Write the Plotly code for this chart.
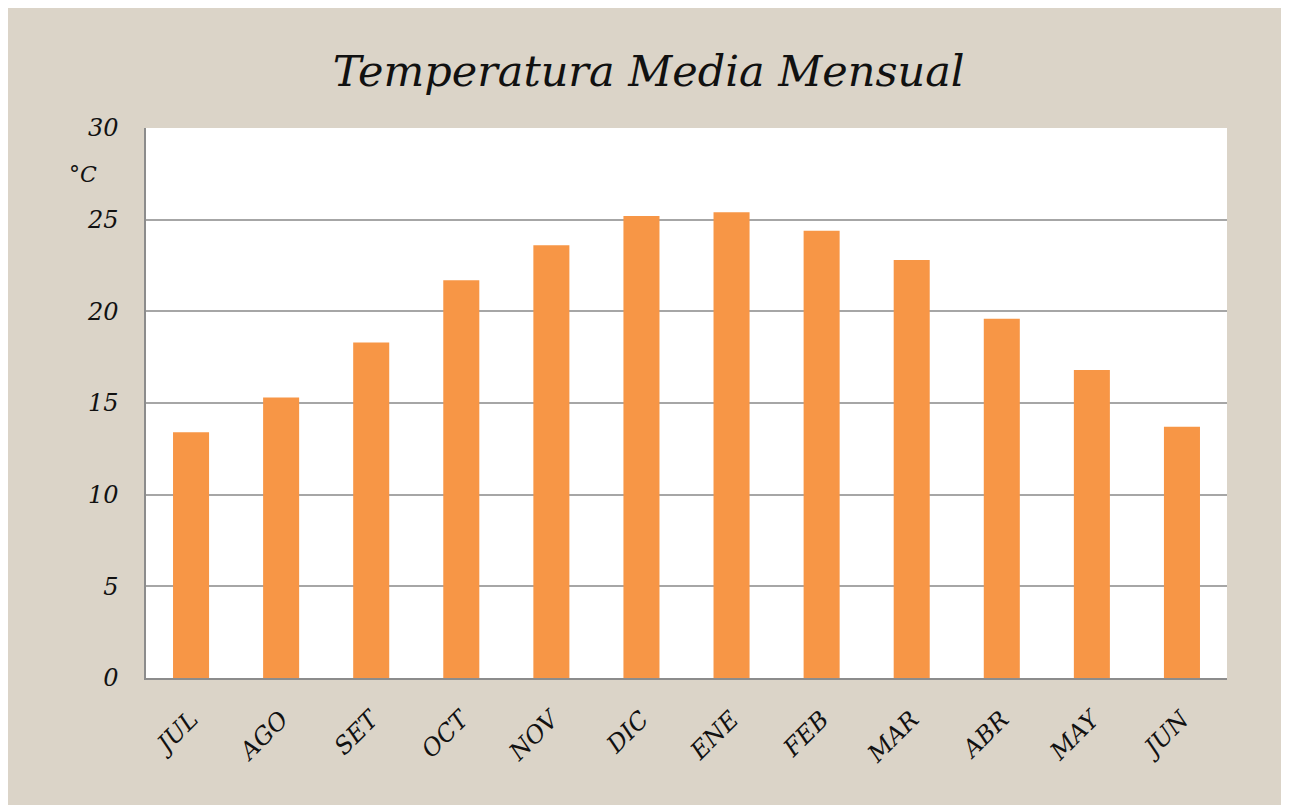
import plotly.graph_objects as go

months = ["JUL", "AGO", "SET", "OCT", "NOV", "DIC", "ENE", "FEB", "MAR", "ABR", "MAY", "JUN"]
temps = [13.4, 15.3, 18.3, 21.7, 23.6, 25.2, 25.4, 24.4, 22.8, 19.6, 16.8, 13.7]
y_ticks = [0, 5, 10, 15, 20, 25, 30]

title_text = "Temperatura Media Mensual"
unit_text = "°C"

serif = "DejaVu Serif"
bg = "#dbd4c8"

fig = go.Figure()
fig.add_trace(go.Bar(
    x=months, y=temps,
    marker=dict(color="#f79646", line=dict(width=0)),
    width=0.4,
))

fig.update_layout(
    width=1289, height=805,
    margin=dict(l=138, r=70, t=120, b=135),
    paper_bgcolor=bg,
    plot_bgcolor="white",
    showlegend=False,
    title=dict(
        text=title_text,
        x=0.497, xanchor="center",
        y=0.922, yanchor="middle",
        font=dict(family=serif, size=43, color="#111111", style="italic"),
    ),
    xaxis=dict(
        tickangle=-45,
        tickfont=dict(family=serif, size=24, color="#111111", style="italic"),
        showline=True, linecolor="#8c8c8c", linewidth=1.5,
        showgrid=False,
        ticks="", ticklabelstandoff=16,
    ),
    yaxis=dict(
        range=[0, 30],
        tickvals=y_ticks,
        tickfont=dict(family=serif, size=24, color="#111111", style="italic"),
        showline=True, linecolor="#8c8c8c", linewidth=1.5,
        showgrid=True, gridcolor="#a6a6a6", gridwidth=1.5,
        ticks="", ticklabelstandoff=21,
        zeroline=False,
    ),
    annotations=[dict(
        text=unit_text, xref="paper", yref="paper",
        x=-0.058, y=0.915, xanchor="center", yanchor="middle",
        showarrow=False,
        font=dict(family=serif, size=22, color="#111111", style="italic"),
    )],
)

fig.write_html("out.html")
